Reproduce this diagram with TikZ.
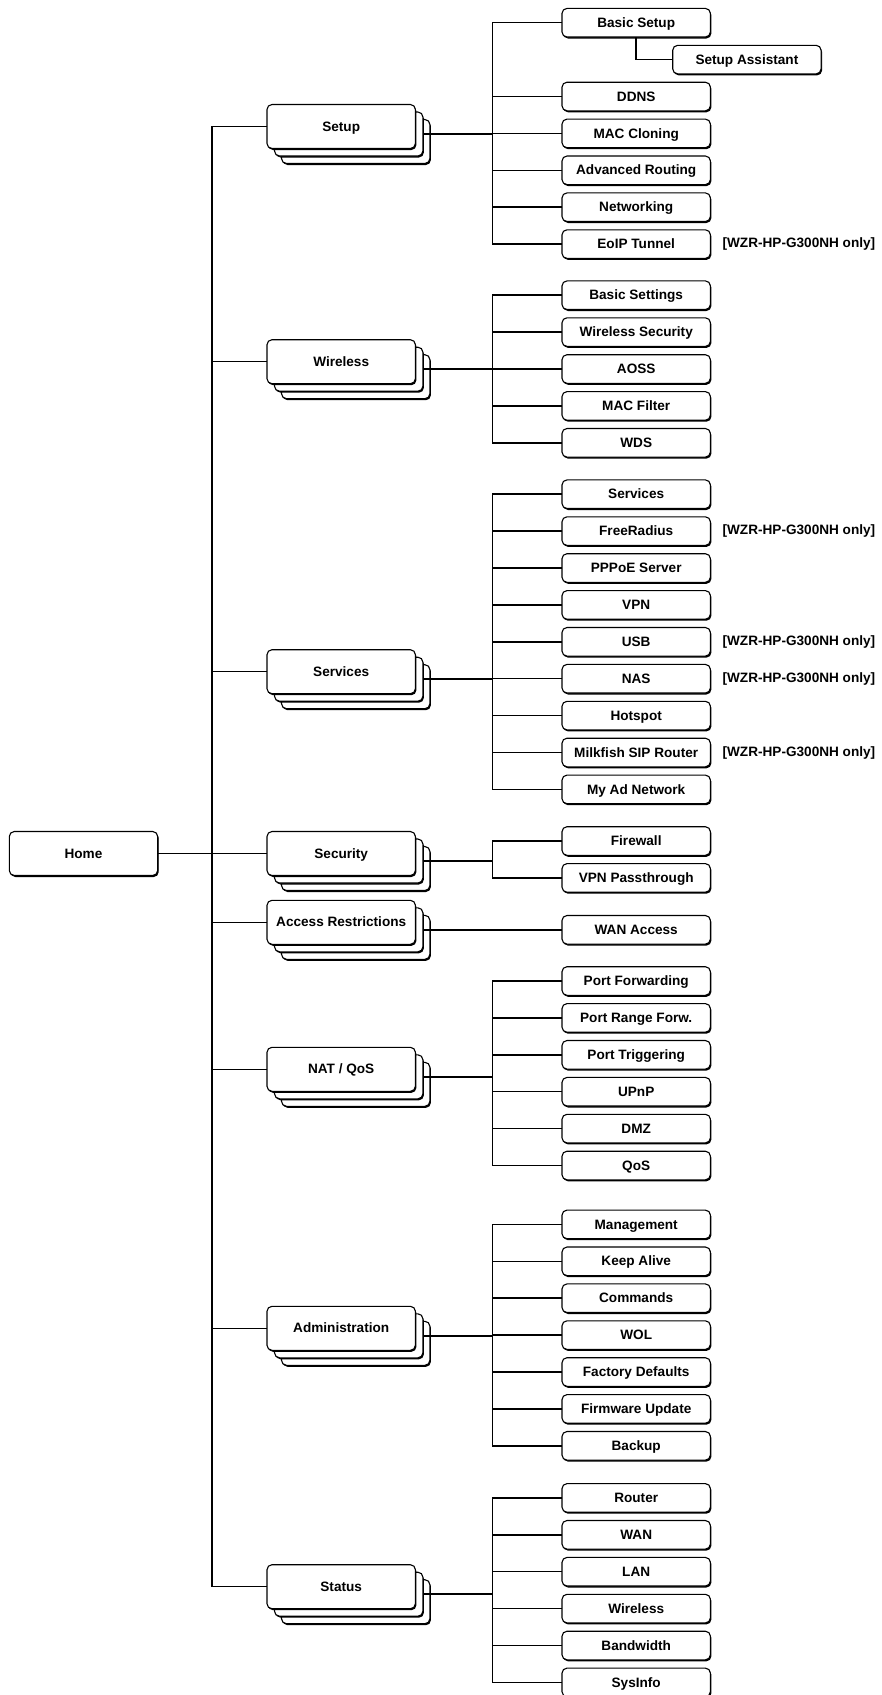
\documentclass[tikz,border=0pt]{standalone}
\usepackage{fontspec}
\setmainfont{Liberation Sans}
\usepackage{tikz}
\usetikzlibrary{positioning,shadows}

\begin{document}
\begin{tikzpicture}[x=1pt,y=-1pt,
  wire/.style={line width=1.5pt},
  labelfont/.style={font=\fontsize{13.6}{16}\selectfont\bfseries},
  boxbase/.style={draw,fill=white,rounded corners=5pt,line width=1.1pt,inner sep=0pt,
    outer sep=0pt,minimum width=148.4pt,text height=9.7pt,text depth=0.5pt,labelfont,
    general shadow={shadow xshift=1pt,shadow yshift=-1.5pt,fill=black}},
  leafbox/.style={boxbase,minimum height=28.6pt},
  homebox/.style={boxbase,minimum height=44pt},
  menubox/.style={
    general shadow={shadow xshift=15.5pt,shadow yshift=-16.5pt,fill=black},
    general shadow={shadow xshift=14.5pt,shadow yshift=-15pt,draw,fill=white,line width=1.1pt},
    general shadow={shadow xshift=8.5pt,shadow yshift=-9pt,fill=black},
    general shadow={shadow xshift=7.5pt,shadow yshift=-7.5pt,draw,fill=white,line width=1.1pt},
    boxbase,minimum height=44pt},
  notetext/.style={labelfont,inner sep=0pt}]
\useasboundingbox (0,0) rectangle (882,1695);
\coordinate (trunk) at (212,0);
\coordinate (bus) at (492.4,0);

% home and menus
\node[homebox] (home) at (83.5,853.5) {Home};
\node[menubox] (setup) at (341.2,126.5) {Setup};
\node[menubox] (wireless) at (341.2,361.7) {Wireless};
\node[menubox] (services) at (341.2,671.7) {Services};
\node[menubox] (security) at (341.2,853.5) {Security};
\node[menubox] (access) at (341.2,922.3) {Access Restrictions};
\node[menubox] (natqos) at (341.2,1069.3) {NAT / QoS};
\node[menubox] (admin) at (341.2,1328.3) {Administration};
\node[menubox] (status) at (341.2,1586.7) {Status};

% ports on the second sheet of each menu
\coordinate (setupport) at ([shift={(7.5,7.5)}]setup.east);
\coordinate (wirelessport) at ([shift={(7.5,7.5)}]wireless.east);
\coordinate (servicesport) at ([shift={(7.5,7.5)}]services.east);
\coordinate (securityport) at ([shift={(7.5,7.5)}]security.east);
\coordinate (accessport) at ([shift={(7.5,7.5)}]access.east);
\coordinate (natqosport) at ([shift={(7.5,7.5)}]natqos.east);
\coordinate (adminport) at ([shift={(7.5,7.5)}]admin.east);
\coordinate (statusport) at ([shift={(7.5,7.5)}]status.east);

% Setup
\node[leafbox] (basicsetup) at (636.2,22.7) {Basic Setup};
\node[leafbox] (setupassist) at (746.9,59.6) {Setup Assistant};
\node[leafbox] (ddns) at (636.2,96.5) {DDNS};
\node[leafbox,below=8.3pt of ddns] (mac) {MAC Cloning};
\node[leafbox,below=8.3pt of mac] (advrouting) {Advanced Routing};
\node[leafbox,below=8.3pt of advrouting] (networking) {Networking};
\node[leafbox,below=8.3pt of networking] (eoip) {EoIP Tunnel};
\node[notetext,right=12pt of eoip] (eoipnote) {[WZR-HP-G300NH only]};

% Wireless
\node[leafbox] (basicsettings) at (636.2,295.2) {Basic Settings};
\node[leafbox,below=8.3pt of basicsettings] (wlsecurity) {Wireless Security};
\node[leafbox,below=8.3pt of wlsecurity] (aoss) {AOSS};
\node[leafbox,below=8.3pt of aoss] (macfilter) {MAC Filter};
\node[leafbox,below=8.3pt of macfilter] (wds) {WDS};

% Services
\node[leafbox] (svc) at (636.2,494.2) {Services};
\node[leafbox,below=8.3pt of svc] (freeradius) {FreeRadius};
\node[leafbox,below=8.3pt of freeradius] (pppoe) {PPPoE Server};
\node[leafbox,below=8.3pt of pppoe] (vpn) {VPN};
\node[leafbox,below=8.3pt of vpn] (usb) {USB};
\node[leafbox,below=8.3pt of usb] (nas) {NAS};
\node[leafbox,below=8.3pt of nas] (hotspot) {Hotspot};
\node[leafbox,below=8.3pt of hotspot] (milkfish) {Milkfish SIP Router};
\node[leafbox,below=8.3pt of milkfish] (myad) {My Ad Network};
\node[notetext,right=12pt of freeradius] (radiusnote) {[WZR-HP-G300NH only]};
\node[notetext,right=12pt of usb] (usbnote) {[WZR-HP-G300NH only]};
\node[notetext,right=12pt of nas] (nasnote) {[WZR-HP-G300NH only]};
\node[notetext,right=12pt of milkfish] (milkfishnote) {[WZR-HP-G300NH only]};

% Security, Access Restrictions
\node[leafbox] (firewall) at (636.2,841) {Firewall};
\node[leafbox,below=8.3pt of firewall] (vpnpass) {VPN Passthrough};
\node[leafbox] (wanaccess) at (636.2,929.8) {WAN Access};

% NAT / QoS
\node[leafbox] (portfwd) at (636.2,981) {Port Forwarding};
\node[leafbox,below=8.3pt of portfwd] (portrange) {Port Range Forw.};
\node[leafbox,below=8.3pt of portrange] (porttrig) {Port Triggering};
\node[leafbox,below=8.3pt of porttrig] (upnp) {UPnP};
\node[leafbox,below=8.3pt of upnp] (dmz) {DMZ};
\node[leafbox,below=8.3pt of dmz] (qos) {QoS};

% Administration
\node[leafbox] (management) at (636.2,1224.4) {Management};
\node[leafbox,below=8.3pt of management] (keepalive) {Keep Alive};
\node[leafbox,below=8.3pt of keepalive] (commands) {Commands};
\node[leafbox,below=8.3pt of commands] (wol) {WOL};
\node[leafbox,below=8.3pt of wol] (factory) {Factory Defaults};
\node[leafbox,below=8.3pt of factory] (firmware) {Firmware Update};
\node[leafbox,below=8.3pt of firmware] (backup) {Backup};

% Status
\node[leafbox] (router) at (636.2,1497.9) {Router};
\node[leafbox,below=8.3pt of router] (wan) {WAN};
\node[leafbox,below=8.3pt of wan] (lan) {LAN};
\node[leafbox,below=8.3pt of lan] (wlstatus) {Wireless};
\node[leafbox,below=8.3pt of wlstatus] (bandwidth) {Bandwidth};
\node[leafbox,below=8.3pt of bandwidth] (sysinfo) {SysInfo};

% trunk
\draw[wire] (home.east) -- (security.west);
\draw[wire] (setup.west) -- (setup.west -| trunk) -- (status.west -| trunk) -- (status.west)
  (wireless.west) -- (wireless.west -| trunk) (services.west) -- (services.west -| trunk)
  (access.west) -- (access.west -| trunk) (natqos.west) -- (natqos.west -| trunk)
  (admin.west) -- (admin.west -| trunk);

% menus to buses
\draw[wire] (setupport) -- (setupport -| bus) (wirelessport) -- (wirelessport -| bus)
  (servicesport) -- (servicesport -| bus) (securityport) -- (securityport -| bus)
  (accessport) -- (wanaccess.west) (natqosport) -- (natqosport -| bus)
  (adminport) -- (adminport -| bus) (statusport) -- (statusport -| bus);

% buses
\draw[wire] (basicsetup.west) -- (basicsetup.west -| bus) -- (eoip.west -| bus) -- (eoip.west)
  (ddns.west) -- (ddns.west -| bus) (mac.west) -- (mac.west -| bus)
  (advrouting.west) -- (advrouting.west -| bus) (networking.west) -- (networking.west -| bus);
\draw[wire] (basicsetup.south) |- (setupassist.west);
\draw[wire] (basicsettings.west) -- (basicsettings.west -| bus) -- (wds.west -| bus) -- (wds.west)
  (wlsecurity.west) -- (wlsecurity.west -| bus) (aoss.west) -- (aoss.west -| bus)
  (macfilter.west) -- (macfilter.west -| bus);
\draw[wire] (svc.west) -- (svc.west -| bus) -- (myad.west -| bus) -- (myad.west)
  (freeradius.west) -- (freeradius.west -| bus) (pppoe.west) -- (pppoe.west -| bus)
  (vpn.west) -- (vpn.west -| bus) (usb.west) -- (usb.west -| bus)
  (nas.west) -- (nas.west -| bus) (hotspot.west) -- (hotspot.west -| bus)
  (milkfish.west) -- (milkfish.west -| bus);
\draw[wire] (firewall.west) -- (firewall.west -| bus) -- (vpnpass.west -| bus) -- (vpnpass.west);
\draw[wire] (portfwd.west) -- (portfwd.west -| bus) -- (qos.west -| bus) -- (qos.west)
  (portrange.west) -- (portrange.west -| bus) (porttrig.west) -- (porttrig.west -| bus)
  (upnp.west) -- (upnp.west -| bus) (dmz.west) -- (dmz.west -| bus);
\draw[wire] (management.west) -- (management.west -| bus) -- (backup.west -| bus) -- (backup.west)
  (keepalive.west) -- (keepalive.west -| bus) (commands.west) -- (commands.west -| bus)
  (wol.west) -- (wol.west -| bus) (factory.west) -- (factory.west -| bus)
  (firmware.west) -- (firmware.west -| bus);
\draw[wire] (router.west) -- (router.west -| bus) -- (sysinfo.west -| bus) -- (sysinfo.west)
  (wan.west) -- (wan.west -| bus) (lan.west) -- (lan.west -| bus)
  (wlstatus.west) -- (wlstatus.west -| bus) (bandwidth.west) -- (bandwidth.west -| bus);
\end{tikzpicture}
\end{document}
